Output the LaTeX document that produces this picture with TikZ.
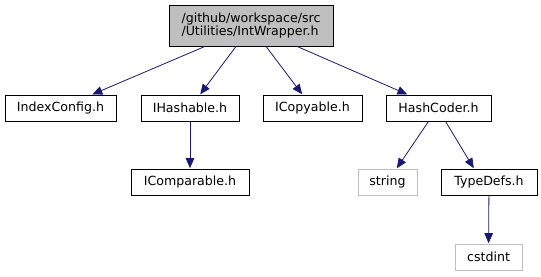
\documentclass[tikz,border=0pt]{standalone}
\usepackage{fontspec}
\setmainfont{DejaVu Sans}
\usetikzlibrary{arrows.meta}
\definecolor{edgeblue}{HTML}{191970}
\definecolor{rootfill}{HTML}{BFBFBF}
\definecolor{extgray}{HTML}{BFBFBF}
\begin{document}
\begin{tikzpicture}[x=1pt,y=-1pt,
  filebox/.style={draw=black,line width=0.8pt,fill=white,inner sep=0pt,
    font=\fontsize{12.6}{13.4}\selectfont,anchor=center},
  extbox/.style={filebox,draw=extgray},
  edge/.style={draw=edgeblue,line width=0.8pt,
    -{Triangle[length=10pt,width=8.5pt]},shorten >=0.4pt}]
\useasboundingbox (0,0) rectangle (541,276);

% root file
\node[filebox,fill=rootfill,minimum width=164pt,minimum height=41pt,align=left]
  (root) at (251,25.5) {/github/workspace/src\\/Utilities/IntWrapper.h};

% direct includes
\node[filebox,minimum width=111pt,minimum height=26pt] (idx) at (60.5,108) {IndexConfig.h};
\node[filebox,minimum width=98pt,minimum height=26pt] (hash) at (190,108) {IHashable.h};
\node[filebox,minimum width=99pt,minimum height=26pt] (copy) at (312.5,108) {ICopyable.h};
\node[filebox,minimum width=105pt,minimum height=26pt] (coder) at (438.5,108) {HashCoder.h};

% second level
\node[filebox,minimum width=118pt,minimum height=26pt] (cmp) at (190,182) {IComparable.h};
\node[extbox,minimum width=59pt,minimum height=26pt] (str) at (387.5,182) {string};
\node[filebox,minimum width=96pt,minimum height=26pt] (types) at (489,182) {TypeDefs.h};

% third level
\node[extbox,minimum width=67pt,minimum height=26pt] (cstd) at (488.5,257) {cstdint};

% include edges
\draw[edge] ([xshift=-46pt]root.south) -- (idx);
\draw[edge] ([xshift=-15pt]root.south) -- (hash);
\draw[edge] ([xshift=15pt]root.south) -- (copy);
\draw[edge] ([xshift=46pt]root.south) -- (coder);
\draw[edge] (hash) -- (cmp);
\draw[edge] ([xshift=-10pt]coder.south) -- (str);
\draw[edge] ([xshift=7pt]coder.south) -- ([xshift=-15pt]types.north);
\draw[edge] (types) -- (cstd);
\end{tikzpicture}
\end{document}
